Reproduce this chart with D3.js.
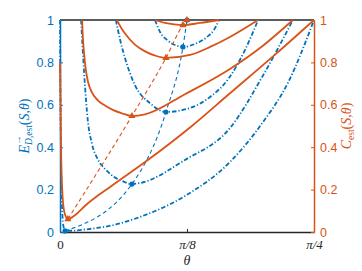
<!DOCTYPE html>
<html>
<head>
<meta charset="utf-8">
<script src="https://cdn.jsdelivr.net/npm/d3@7"></script>
<style>
  body { margin: 0; background: #fff; }
  svg { display: block; }
</style>
</head>
<body>
<div id="chart"></div>
<script>
// theta values are stored as a fraction of pi/4, each point is [theta, value]
// blue dash-dot curves: E_D,est(S,theta)
var blueS1 = [[0, 1], [0.002, 0.6], [0.005, 0.25], [0.01, 0.07], [0.015, 0.02], [0.022, 0.006], [0.05, 0.006], [0.1, 0.012], [0.2, 0.03], [0.315, 0.071], [0.492, 0.17], [0.669, 0.33], [0.791, 0.505], [0.9, 0.71], [1, 1]];
var blueS2 = [[0.083, 1], [0.095, 0.75], [0.11, 0.52], [0.125, 0.42], [0.15, 0.34], [0.177, 0.298], [0.21, 0.262], [0.244, 0.241], [0.283, 0.226], [0.315, 0.231], [0.492, 0.34], [0.669, 0.49], [0.8, 0.74], [0.917, 1]];
var blueS3 = [[0.22, 1], [0.238, 0.9], [0.256, 0.82], [0.295, 0.693], [0.354, 0.608], [0.417, 0.566], [0.512, 0.585], [0.591, 0.637], [0.665, 0.726], [0.728, 0.858], [0.78, 1]];
var blueS4 = [[0.374, 1], [0.394, 0.943], [0.421, 0.906], [0.453, 0.882], [0.484, 0.873], [0.531, 0.887], [0.579, 0.92], [0.606, 0.953], [0.626, 1]];

// orange solid curves: C_est(S,theta)
var orangeS1 = [[0, 0.8], [0.004, 0.4], [0.01, 0.17], [0.018, 0.09], [0.031, 0.061], [0.06, 0.08], [0.1, 0.125], [0.2, 0.215], [0.335, 0.33], [0.524, 0.505], [0.661, 0.646], [0.85, 0.84], [1, 1]];
var orangeS2 = [[0.087, 1], [0.09, 0.92], [0.095, 0.84], [0.1, 0.78], [0.11, 0.71], [0.125, 0.66], [0.15, 0.62], [0.177, 0.597], [0.21, 0.575], [0.244, 0.56], [0.283, 0.547], [0.335, 0.555], [0.492, 0.65], [0.669, 0.769], [0.8, 0.88], [0.917, 1]];
var orangeS3 = [[0.224, 1], [0.24, 0.965], [0.256, 0.936], [0.295, 0.884], [0.335, 0.852], [0.375, 0.832], [0.417, 0.821], [0.512, 0.835], [0.591, 0.873], [0.669, 0.92], [0.78, 1]];
var orangeS4 = [[0.374, 1], [0.413, 0.986], [0.484, 0.976], [0.551, 0.986], [0.626, 1]];

// minima of each curve (markers + dashed locus)
var blueMinTheta = [0.02, 0.283, 0.417, 0.484, 0.5];
var blueMinE = [0.005, 0.226, 0.566, 0.873, 1];
var orangeMinTheta = [0.031, 0.283, 0.417, 0.484, 0.5];
var orangeMinC = [0.061, 0.547, 0.821, 0.976, 1];

// ticks
var xTickVals = [0, 0.5, 1];
var xTickLabels = ["0", "\u03C0/8", "\u03C0/4"];
var yTickVals = [0, 0.2, 0.4, 0.6, 0.8, 1];

var width = 362;
var height = 271;
var blue = "#0072BD";
var orange = "#D95319";
var dark = "#262626";
var serif = "'Liberation Serif', 'DejaVu Serif', serif";
var sans = "'Liberation Sans', Arial, sans-serif";
var q = Math.PI / 4;

var svg = d3
  .select("#chart")
  .append("svg")
  .attr("width", width)
  .attr("height", height);

var xScale = d3.scaleLinear().domain([0, Math.PI / 4]).range([60, 314]);
var yLeft = d3.scaleLinear().domain([0, 1]).range([232, 20]);
var yRight = d3.scaleLinear().domain([0, 1]).range([232, 20]);

// bottom axis
var xAxis = d3.axisBottom(xScale)
  .tickValues(xTickVals.map(function(v) { return v * q; }))
  .tickFormat(function(d, i) { return xTickLabels[i]; })
  .tickSizeInner(-3)
  .tickSizeOuter(0)
  .tickPadding(8);

var gx = svg.append("g")
  .attr("transform", "translate(0,232)")
  .call(xAxis);
gx.select(".domain").attr("stroke", dark).attr("stroke-width", 1.5);
gx.selectAll(".tick line").attr("stroke", dark);
gx.selectAll(".tick text")
  .attr("fill", dark)
  .style("font-family", serif)
  .style("font-size", "13px")
  .style("font-style", function(d, i) { return i === 0 ? "normal" : "italic"; });

// top box line
svg.append("line")
  .attr("x1", 60).attr("x2", 314)
  .attr("y1", 20).attr("y2", 20)
  .attr("stroke", dark)
  .attr("stroke-width", 1.5);

// left axis
var gl = svg.append("g")
  .attr("transform", "translate(60,0)")
  .call(d3.axisLeft(yLeft).tickValues(yTickVals).tickFormat(d3.format("~g")).tickSizeInner(-3).tickSizeOuter(0).tickPadding(6));
gl.select(".domain").attr("stroke", blue).attr("stroke-width", 1.5);
gl.selectAll(".tick line").attr("stroke", blue);
gl.selectAll(".tick text")
  .attr("fill", blue)
  .style("font-family", sans)
  .style("font-size", "12.5px");

// right axis
var gr = svg.append("g")
  .attr("transform", "translate(314,0)")
  .call(d3.axisRight(yRight).tickValues(yTickVals).tickFormat(d3.format("~g")).tickSizeInner(-3).tickSizeOuter(0).tickPadding(6));
gr.select(".domain").attr("stroke", orange).attr("stroke-width", 1.5);
gr.selectAll(".tick line").attr("stroke", orange);
gr.selectAll(".tick text")
  .attr("fill", orange)
  .style("font-family", sans)
  .style("font-size", "12.5px");

// line generators
var lineLeft = d3.line()
  .x(function(d) { return xScale(d[0] * q); })
  .y(function(d) { return yLeft(d[1]); })
  .curve(d3.curveMonotoneX);

var lineRight = d3.line()
  .x(function(d) { return xScale(d[0] * q); })
  .y(function(d) { return yRight(d[1]); })
  .curve(d3.curveMonotoneX);

var blueMins = blueMinTheta.map(function(t, i) { return [t, blueMinE[i]]; });
var orangeMins = orangeMinTheta.map(function(t, i) { return [t, orangeMinC[i]]; });

// blue curves (dash-dot)
svg.selectAll("path.blueCurve")
  .data([blueS1, blueS2, blueS3, blueS4])
  .enter()
  .append("path")
  .attr("class", "blueCurve")
  .attr("d", lineLeft)
  .attr("fill", "none")
  .attr("stroke", blue)
  .attr("stroke-width", 1.8)
  .attr("stroke-dasharray", "4.5,2,1.2,2");

// blue locus of minima (dashed)
svg.append("path")
  .attr("d", lineLeft(blueMins))
  .attr("fill", "none")
  .attr("stroke", blue)
  .attr("stroke-width", 1.1)
  .attr("stroke-dasharray", "4,3");

svg.selectAll("circle.blueMin")
  .data(blueMins)
  .enter()
  .append("circle")
  .attr("class", "blueMin")
  .attr("cx", function(d) { return xScale(d[0] * q); })
  .attr("cy", function(d) { return yLeft(d[1]); })
  .attr("r", 2.6)
  .attr("fill", blue);

// orange curves (solid)
svg.selectAll("path.orangeCurve")
  .data([orangeS1, orangeS2, orangeS3, orangeS4])
  .enter()
  .append("path")
  .attr("class", "orangeCurve")
  .attr("d", lineRight)
  .attr("fill", "none")
  .attr("stroke", orange)
  .attr("stroke-width", 1.8);

// orange locus of minima (dashed)
svg.append("path")
  .attr("d", lineRight(orangeMins))
  .attr("fill", "none")
  .attr("stroke", orange)
  .attr("stroke-width", 1.1)
  .attr("stroke-dasharray", "4,3");

svg.selectAll("path.orangeMin")
  .data(orangeMins)
  .enter()
  .append("path")
  .attr("class", "orangeMin")
  .attr("d", d3.symbol().type(d3.symbolTriangle).size(22))
  .attr("transform", function(d) {
    return "translate(" + xScale(d[0] * q) + "," + yRight(d[1]) + ")";
  })
  .attr("fill", orange);

// x label
svg.append("text")
  .attr("x", 187)
  .attr("y", 265)
  .attr("text-anchor", "middle")
  .attr("fill", dark)
  .style("font-family", serif)
  .style("font-size", "14px")
  .style("font-style", "italic")
  .text("\u03B8");

// left y label: E^{->}_{D,est}(S,theta)
var lg = svg.append("g").attr("transform", "translate(29,126) rotate(-90)");
var lt = lg.append("text")
  .attr("fill", blue)
  .style("font-family", serif)
  .style("font-size", "14px");
var eSpan = lt.append("tspan").style("font-style", "italic").text("E");
lt.append("tspan").attr("dy", 3).style("font-size", "9.5px").style("font-style", "italic").text("D");
lt.append("tspan").style("font-size", "9.5px").text(",est");
lt.append("tspan").attr("dy", -3).text("(");
lt.append("tspan").style("font-style", "italic").text("S");
lt.append("tspan").text(",");
lt.append("tspan").style("font-style", "italic").text("\u03B8");
lt.append("tspan").text(")");
var eW = eSpan.node().getComputedTextLength();
var lw = lt.node().getComputedTextLength();
lt.attr("x", -lw / 2);
lg.append("text")
  .attr("x", -lw / 2 + eW + 0.5)
  .attr("y", -8)
  .attr("fill", blue)
  .style("font-family", serif)
  .style("font-size", "9px")
  .text("\u2192");

// right y label: C_est(S,theta)
var rg = svg.append("g").attr("transform", "translate(351,126) rotate(-90)");
var rt = rg.append("text")
  .attr("fill", orange)
  .style("font-family", serif)
  .style("font-size", "14px");
rt.append("tspan").style("font-style", "italic").text("C");
rt.append("tspan").attr("dy", 3).style("font-size", "9.5px").text("est");
rt.append("tspan").attr("dy", -3).text("(");
rt.append("tspan").style("font-style", "italic").text("S");
rt.append("tspan").text(",");
rt.append("tspan").style("font-style", "italic").text("\u03B8");
rt.append("tspan").text(")");
var rw = rt.node().getComputedTextLength();
rt.attr("x", -rw / 2);
</script>
</body>
</html>
